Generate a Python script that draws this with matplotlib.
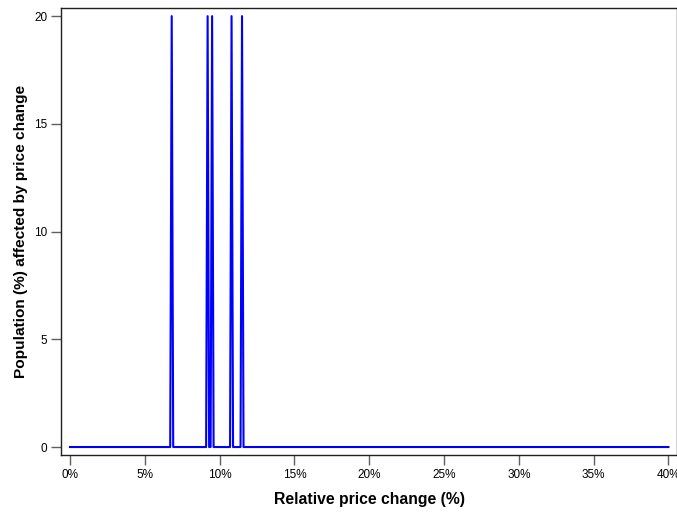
import matplotlib
matplotlib.use("Agg")
import matplotlib.pyplot as plt
from matplotlib.ticker import FuncFormatter

plt.rcParams['font.family'] = ['Liberation Sans', 'DejaVu Sans']

# relative price change (%) and population share (%)
price_change = [0.0, 6.7, 6.8, 6.9, 9.1, 9.2, 9.3, 9.4, 9.5, 9.6,
                10.7, 10.8, 10.9, 11.4, 11.5, 11.6, 40.0]
population = [0, 0, 20, 0, 0, 20, 0, 0, 20, 0,
              0, 20, 0, 0, 20, 0, 0]

x_ticks = [0, 5, 10, 15, 20, 25, 30, 35, 40]
y_ticks = [0, 5, 10, 15, 20]

fig = plt.figure(figsize=(6.77, 5.14), dpi=100)
ax = fig.add_axes([0.0901, 0.1148, 0.9105, 0.8706])

ax.plot(price_change, population, color="#0000ff", linewidth=1.5)

ax.set_xlim(-0.6, 40.6)
ax.set_ylim(-0.37, 20.4)
ax.set_xticks(x_ticks)
ax.set_yticks(y_ticks)
ax.xaxis.set_major_formatter(FuncFormatter(lambda v, p: f"{v:.0f}%"))
ax.tick_params(direction="out", length=7, width=1, color="#606060",
               labelsize=8.5, pad=3)

for s in ax.spines.values():
    s.set_color("#202020")
    s.set_linewidth(1)

ax.set_xlabel("Relative price change (%)", fontsize=11.3, fontweight="bold", labelpad=8)
ax.set_ylabel("Population (%) affected by price change", fontsize=11.1,
              fontweight="bold", labelpad=4.5)

fig.savefig("out.png", dpi=100)
